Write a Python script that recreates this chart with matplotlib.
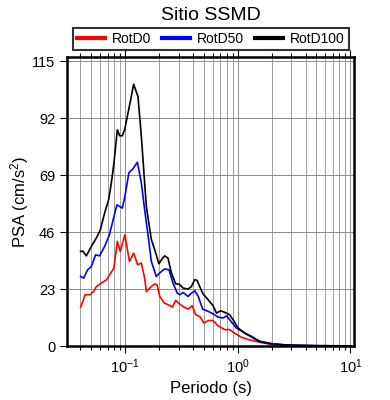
#Espectro de respuesta - Sitio SSMD
import numpy as np
import matplotlib.pyplot as plt
from matplotlib.ticker import LogLocator, NullFormatter

plt.rcParams['font.family'] = ['Liberation Sans', 'DejaVu Sans']
plt.rcParams['mathtext.default'] = 'regular'

#Datos (periodo [s], PSA [cm/s^2])
T_rotd0 = [0.0402, 0.0422, 0.0440, 0.0489, 0.0525, 0.0555, 0.0617, 0.0685, 0.0795, 0.0852,
           0.0905, 0.0995, 0.1092, 0.1190, 0.1292, 0.1393, 0.149, 0.1543, 0.171, 0.183,
           0.192, 0.203, 0.222, 0.240, 0.263, 0.281, 0.302, 0.333, 0.364, 0.394,
           0.423, 0.460, 0.500, 0.550, 0.603, 0.667, 0.766, 0.849, 0.936, 1.07,
           1.26, 1.57, 2.0, 3.0, 5.0, 10.0]
rotd0 = [15.7, 18.0, 20.7, 20.7, 22.0, 24.0, 25.4, 26.8, 31.5, 42.2,
         38.2, 44.9, 34.1, 37.5, 32.8, 33.5, 27.4, 22.0, 24.0, 25.1,
         24.7, 20.0, 17.4, 16.7, 15.7, 18.4, 17.1, 15.7, 14.9, 16.3,
         12.6, 11.9, 9.3, 10.3, 10.3, 8.2, 6.6, 6.6, 5.2, 3.6,
         2.5, 1.5, 0.6, 0.25, 0.1, 0.05]

T_rotd50 = [0.0402, 0.0428, 0.0465, 0.0501, 0.0546, 0.0593, 0.0657, 0.0725, 0.0776, 0.0845,
            0.0944, 0.0995, 0.1080, 0.1166, 0.1286, 0.1393, 0.149, 0.1595, 0.171, 0.189,
            0.205, 0.224, 0.245, 0.266, 0.290, 0.306, 0.327, 0.362, 0.382, 0.415,
            0.446, 0.488, 0.546, 0.603, 0.667, 0.737, 0.799, 0.872, 0.970, 1.13,
            1.33, 1.57, 2.0, 3.0, 5.0, 10.0]
rotd50 = [28.1, 27.4, 30.8, 32.1, 36.8, 36.4, 40.2, 44.9, 50.3, 57.0,
          55.7, 60.4, 70.0, 71.4, 74.2, 65.8, 55.0, 44.9, 34.1, 28.1,
          29.7, 31.1, 30.8, 25.4, 21.4, 20.7, 21.6, 20.0, 21.1, 22.3,
          20.0, 14.9, 14.0, 13.0, 11.7, 11.3, 12.2, 9.9, 7.3, 5.5,
          3.5, 1.7, 0.8, 0.3, 0.12, 0.05]

T_rotd100 = [0.0402, 0.0422, 0.0452, 0.0501, 0.0555, 0.0602, 0.0657, 0.0713, 0.0754, 0.0795,
             0.0852, 0.0894, 0.0944, 0.0990, 0.1059, 0.1119, 0.1190, 0.1300, 0.1393, 0.149,
             0.1543, 0.171, 0.183, 0.1997, 0.2099, 0.2244, 0.240, 0.2575, 0.281, 0.3008,
             0.3265, 0.3615, 0.3877, 0.4148, 0.4346, 0.4596, 0.4913, 0.5445, 0.603, 0.6465,
             0.706, 0.766, 0.849, 0.908, 1.006, 1.154, 1.324, 1.569, 2.05, 2.73,
             3.56, 5.0, 10.0]
rotd100 = [38.2, 38.3, 36.4, 40.2, 43.6, 46.9, 53.7, 59.0, 65.8, 73.8,
           87.3, 84.9, 84.9, 87.3, 94.0, 99.4, 105.7, 100.7, 84.6, 65.8,
           56.3, 42.9, 38.9, 33.2, 34.8, 36.4, 35.5, 29.5, 25.1, 25.0,
           23.4, 23.0, 24.0, 26.8, 26.5, 24.0, 21.1, 18.7, 16.3, 13.3,
           14.2, 13.6, 12.6, 10.6, 7.3, 5.2, 3.9, 1.9, 0.9, 0.4,
           0.25, 0.12, 0.05]

y_ticks = [0, 23, 46, 69, 92, 115]

fig = plt.figure(figsize=(3.9, 4.0), dpi=100)
ax = fig.add_axes([0.172, 0.135, 0.736, 0.7225])

ax.plot(T_rotd0, rotd0, color='red', lw=1.2, label='RotD0')
ax.plot(T_rotd50, rotd50, color='blue', lw=1.2, label='RotD50')
ax.plot(T_rotd100, rotd100, color='black', lw=1.2, label='RotD100')

ax.set_xscale('log')
ax.set_xlim(0.0305, 10.8)
ax.set_ylim(0, 116.7)
ax.set_yticks(y_ticks)
ax.xaxis.set_major_locator(LogLocator(base=10, numticks=10))
ax.xaxis.set_minor_locator(LogLocator(base=10, subs=np.arange(2, 10), numticks=20))
ax.xaxis.set_minor_formatter(NullFormatter())

#grilla
ax.grid(True, which='major', color='#8c8c8c', lw=0.7)
ax.grid(True, which='minor', axis='x', color='#a0a0a0', lw=0.7)
ax.set_axisbelow(True)

for s in ax.spines.values():
    s.set_linewidth(1.8)
ax.tick_params(which='both', direction='out', top=True, right=False, labelsize=10.5, width=0.8)
ax.tick_params(which='major', length=5)
ax.tick_params(which='minor', length=3)

ax.set_xlabel("Periodo (s)", fontsize=12, labelpad=3)
ax.set_ylabel("PSA (cm/s$^2$)", fontsize=12, labelpad=1)
fig.text(0.54, 0.962, "Sitio SSMD", ha='center', va='center', fontsize=14)

leg = fig.legend(loc='center', bbox_to_anchor=(0.54, 0.903), ncol=3, fontsize=10,
                 frameon=True, fancybox=False, edgecolor='black', handlelength=2.0,
                 columnspacing=0.8, handletextpad=0.5, borderpad=0.3)
leg.get_frame().set_linewidth(1.5)
for l in leg.get_lines():
    l.set_linewidth(3)

plt.savefig("out.png", dpi=100)
